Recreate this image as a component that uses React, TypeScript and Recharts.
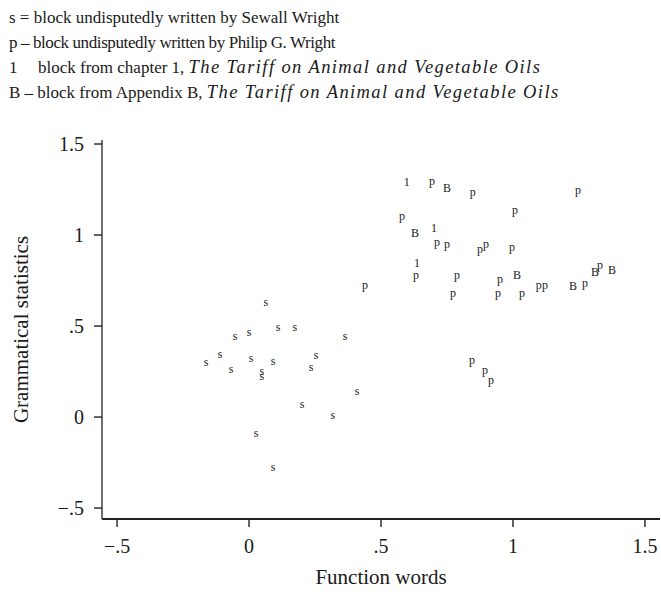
import React from "react";
import { ScatterChart, Scatter, XAxis, YAxis, Label } from "recharts";

// [function words, grammatical statistics]
const sewallBlocks: [number, number][] = [
  [0.064, 0.626], [-0.053, 0.44], [0.0, 0.462], [0.11, 0.489], [0.174, 0.489],
  [0.364, 0.44], [-0.11, 0.341], [-0.163, 0.297], [0.008, 0.319], [0.091, 0.302],
  [0.254, 0.335], [-0.068, 0.258], [0.049, 0.247], [0.049, 0.22], [0.235, 0.269],
  [0.409, 0.137], [0.201, 0.066], [0.318, 0.005], [0.027, -0.093], [0.091, -0.28],
];

const philipBlocks: [number, number][] = [
  [0.693, 1.28], [0.848, 1.22], [1.246, 1.236], [1.008, 1.126], [0.58, 1.088],
  [0.712, 0.945], [0.75, 0.934], [0.875, 0.907], [0.898, 0.934], [0.996, 0.918],
  [0.633, 0.764], [0.788, 0.769], [0.439, 0.709], [0.773, 0.67], [0.951, 0.742],
  [0.943, 0.67], [1.034, 0.67], [1.098, 0.714], [1.121, 0.714], [1.273, 0.725],
  [1.33, 0.819], [0.845, 0.297], [0.894, 0.242], [0.917, 0.192],
];

const chapterOneBlocks: [number, number][] = [
  [0.598, 1.291], [0.701, 1.038], [0.636, 0.846],
];

const appendixBBlocks: [number, number][] = [
  [0.75, 1.258], [0.629, 1.011], [1.015, 0.78], [1.227, 0.72], [1.311, 0.797], [1.375, 0.808],
];

const xTicks = [-0.5, 0, 0.5, 1, 1.5];
const yTicks = [-0.5, 0, 0.5, 1, 1.5];
const xDomain: [number, number] = [-0.557, 1.557];
const yDomain: [number, number] = [-0.56, 1.522];

const SERIF = "'Liberation Serif', 'DejaVu Serif', serif";
const INK = "#1a1a1a";

const toPoints = (arr: [number, number][]) => arr.map(([x, y]) => ({ x, y }));

// rug along the bottom axis: every block's x at the bottom of the y range
const rugPoints = [...sewallBlocks, ...philipBlocks, ...chapterOneBlocks, ...appendixBBlocks].map(
  ([x]) => ({ x, y: yDomain[0] })
);

const fmt = (v: number) => {
  if (v === 0) return "0";
  const s = Math.abs(v).toString().replace(/^0\./, ".");
  return v < 0 ? "\u2212" + s : s;
};

// vertical offset so the glyph's visual centre sits on the point
const glyphDy: Record<string, string> = { s: "0.24em", p: "0.12em", B: "0.34em", "1": "0.34em" };

const markShape = (ch: string) => (props: any) => {
  const { cx, cy } = props;
  if (cx == null || cy == null) return <g />;
  return (
    <text
      x={cx}
      y={cy}
      dy={glyphDy[ch]}
      textAnchor="middle"
      fontFamily={SERIF}
      fontSize={12}
      fill={INK}
    >
      {ch}
    </text>
  );
};

const rugShape = (props: any) => {
  const { cx, cy } = props;
  if (cx == null || cy == null) return <g />;
  return <line x1={cx} x2={cx} y1={cy} y2={cy + 3} stroke="#333" strokeWidth={1.2} />;
};

const legendStyle: React.CSSProperties = {
  position: "absolute",
  left: 9,
  top: 5,
  fontFamily: SERIF,
  fontSize: 17,
  lineHeight: "25px",
  color: INK,
  whiteSpace: "nowrap",
};

const titleStyle: React.CSSProperties = { fontStyle: "italic", fontSize: 18.5, letterSpacing: 1.4 };

export default function App() {
  return (
    <div style={{ position: "absolute", left: 0, top: 0, width: 661, height: 594, background: "#fff" }}>
      <div style={legendStyle}>
        <div>s = block undisputedly written by Sewall Wright</div>
        <div style={{ letterSpacing: -0.4 }}>p – block undisputedly written by Philip G. Wright</div>
        <div>
          <span style={{ display: "inline-block", width: 29 }}>1</span>
          block from chapter 1, <span style={titleStyle}>The Tariff on Animal and Vegetable Oils</span>
        </div>
        <div>
          B – block from Appendix B, <span style={titleStyle}>The Tariff on Animal and Vegetable Oils</span>
        </div>
      </div>
      <ScatterChart width={661} height={594} margin={{ top: 140, right: 1, bottom: 0, left: 0 }}>
        <XAxis
          type="number"
          dataKey="x"
          domain={xDomain}
          ticks={xTicks}
          allowDataOverflow
          tickFormatter={fmt}
          height={75}
          tickSize={8}
          tickMargin={12}
          axisLine={{ stroke: "#222", strokeWidth: 1.8 }}
          tickLine={{ stroke: "#222", strokeWidth: 1.4 }}
          tick={{ fontSize: 20, fontFamily: SERIF, fill: INK }}
        >
          <Label
            content={({ viewBox }: any) => (
              <text
                x={viewBox.x + viewBox.width / 2}
                y={viewBox.y + 65}
                textAnchor="middle"
                fontFamily={SERIF}
                fontSize={21}
                fill={INK}
              >
                Function words
              </text>
            )}
          />
        </XAxis>
        <YAxis
          type="number"
          dataKey="y"
          domain={yDomain}
          ticks={yTicks}
          allowDataOverflow
          tickFormatter={fmt}
          width={102}
          tickSize={8}
          tickMargin={10}
          axisLine={{ stroke: "#222", strokeWidth: 1.3 }}
          tickLine={{ stroke: "#222", strokeWidth: 1.4 }}
          tick={{ fontSize: 20, fontFamily: SERIF, fill: INK }}
        >
          <Label
            content={({ viewBox }: any) => {
              const cy = viewBox.y + viewBox.height / 2;
              return (
                <text
                  x={28}
                  y={cy}
                  transform={`rotate(-90 28 ${cy})`}
                  textAnchor="middle"
                  fontFamily={SERIF}
                  fontSize={21}
                  fill={INK}
                >
                  Grammatical statistics
                </text>
              );
            }}
          />
        </YAxis>
        <Scatter data={rugPoints} shape={rugShape} isAnimationActive={false} />
        <Scatter data={toPoints(sewallBlocks)} shape={markShape("s")} isAnimationActive={false} />
        <Scatter data={toPoints(philipBlocks)} shape={markShape("p")} isAnimationActive={false} />
        <Scatter data={toPoints(chapterOneBlocks)} shape={markShape("1")} isAnimationActive={false} />
        <Scatter data={toPoints(appendixBBlocks)} shape={markShape("B")} isAnimationActive={false} />
      </ScatterChart>
    </div>
  );
}
